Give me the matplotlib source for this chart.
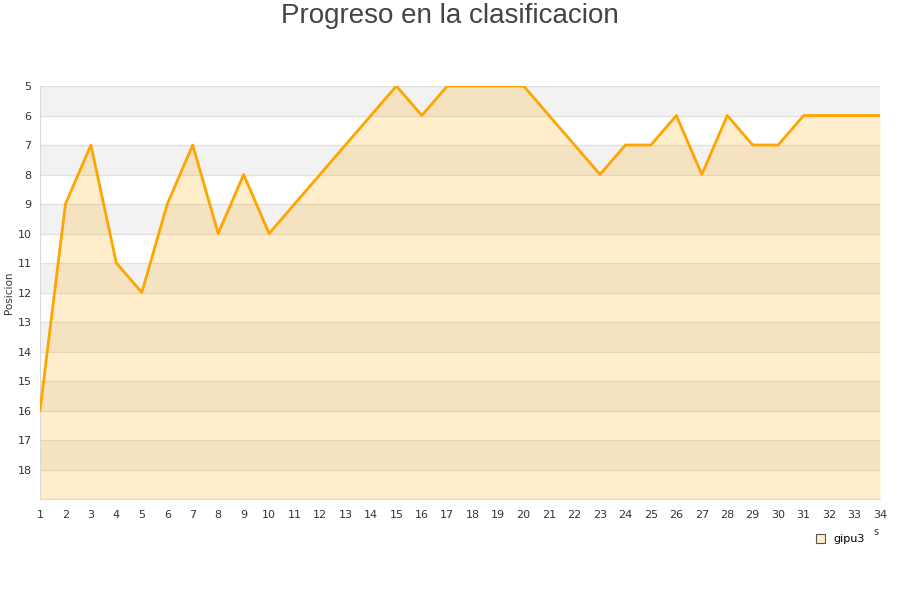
import numpy as np
import matplotlib
matplotlib.use("Agg")
import matplotlib.pyplot as plt

# Datos: posicion del equipo por jornada
jornadas = list(range(1, 35))
posicion = [16, 9, 7, 11, 12, 9, 7, 10, 8, 10,
            9, 8, 7, 6, 5, 6, 5, 5, 5, 5,
            6, 7, 8, 7, 7, 6, 8, 6, 7, 7,
            6, 6, 6, 6]
equipo = "gipu3"
ytick_vals = list(range(5, 19))

fig = plt.figure(figsize=(9, 6), dpi=100)
ax = fig.add_axes([40 / 900, 1 - 499 / 600, 840 / 900, 413 / 600])

# bandas alternas de fondo
for y0 in range(5, 19, 2):
    ax.axhspan(y0, y0 + 1, color="#f2f2f2", zorder=0, lw=0)
for y0 in range(5, 20):
    ax.axhline(y0, color="#e0e0e0", lw=0.9, zorder=1)

ax.fill_between(jornadas, posicion, 19, color="orange", alpha=0.2, lw=0, zorder=2)
ax.plot(jornadas, posicion, color="orange", lw=2, zorder=3, label=equipo)

ax.set_xlim(1, 34)
ax.set_ylim(19, 5)
ax.set_xticks(jornadas)
ax.set_yticks(ytick_vals)
ax.tick_params(axis="x", length=0, labelsize=8, colors="#333333", pad=8)
ax.tick_params(axis="y", length=0, labelsize=8, colors="#333333", pad=6)
for s in ["top", "right"]:
    ax.spines[s].set_visible(False)
for s in ["left", "bottom"]:
    ax.spines[s].set_color("#d9d9d9")

ax.set_ylabel("Posicion", fontsize=7.5, color="#333333")
ax.yaxis.set_label_coords(-26 / 840, 0.5)

fig.text(0.5, 0.995, "Progreso en la clasificacion", ha="center", va="top",
         fontsize=20, color="#444444", family="Liberation Sans")

# leyenda abajo a la derecha
h = plt.Rectangle((0, 0), 1, 1, facecolor="#ffedcc", edgecolor="#555555", lw=0.8)
leg = fig.legend([h], [equipo], loc="upper right", frameon=False, fontsize=8,
                 handlelength=0.8, handleheight=0.8, handletextpad=0.8)
leg.set_bbox_to_anchor((875 / 900, 1 - 524 / 600), transform=fig.transFigure)
fig.text(876 / 900, 1 - 532 / 600, "s", fontsize=7, color="#333333", ha="center", va="center")

fig.savefig("out.png", dpi=100)
